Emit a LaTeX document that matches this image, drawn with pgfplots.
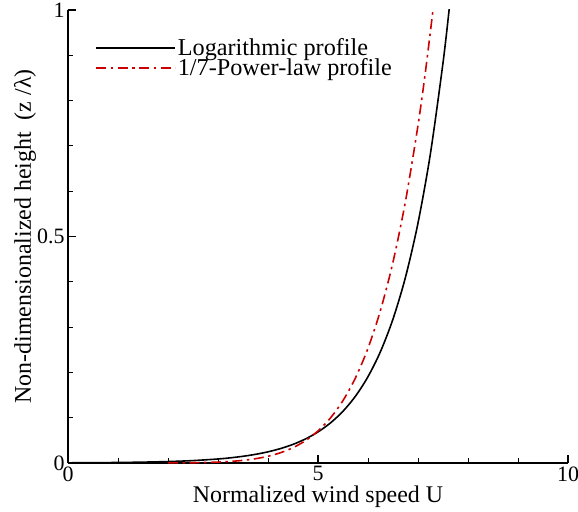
\documentclass[border=0pt]{standalone}
\usepackage{pgfplots}
\pgfplotsset{compat=1.18}
\usepackage{fontspec}
\setmainfont{Liberation Serif}
\definecolor{myred}{RGB}{204,0,0}
\begin{document}
\begin{tikzpicture}
\begin{axis}[
  name=ax,
  scale only axis,
  width=500bp, height=453bp,
  xmin=0, xmax=10, ymin=0, ymax=1,
  axis x line=bottom, axis y line=left,
  axis line style={-, line width=1.6pt},
  xtick={0,5,10}, ytick={0,0.5,1},
  minor xtick={1,2,3,4,6,7,8,9},
  minor ytick={0.1,0.2,0.3,0.4,0.6,0.7,0.8,0.9},
  tick align=inside,
  major tick length=8bp, minor tick length=5bp,
  every tick/.style={black, line width=1pt},
  major tick style={line width=1.6pt},
  tick label style={font=\fontsize{22}{24}\selectfont},
  /pgf/number format/assume math mode=true,
  xlabel={Normalized wind speed U},
  ylabel={Non-dimensionalized height\ \ (z /λ)},
  label style={font=\fontsize{24}{26}\selectfont, inner sep=0pt},
  xlabel style={at={(axis description cs:0.5,-0.051)}, anchor=north},
  ylabel style={at={(axis description cs:-0.086,0.5)}, anchor=center},
  legend style={draw=none, fill=none, at={(axis description cs:0.054,0.942)}, anchor=north west,
    font=\fontsize{24.3}{25}\selectfont, row sep=-2.5bp, inner sep=0pt,
    nodes={inner sep=2bp}},
  legend cell align=left,
  legend image code/.code={\draw[#1] (0bp,0bp) -- (79bp,0bp);},
  legend image post style={line width=1.7pt},
  clip=true,
]
\addplot[black, line width=1.6pt, smooth] table {
x y
0 0.000413
0.5 0.000689
1 0.001148
1.5 0.001915
2 0.003192
2.5 0.00532
3 0.008875
3.25 0.01146
3.5 0.0148
3.75 0.01911
4 0.02467
4.25 0.03185
4.5 0.04113
4.75 0.05311
5 0.06857
5.25 0.08854
5.5 0.1143
5.75 0.1476
6 0.1906
6.25 0.2461
6.5 0.3178
6.75 0.4103
7 0.5298
7.25 0.6841
7.5 0.8833
7.62 0.998
7.64 1.02
};
\addlegendentry{Logarithmic profile}
\addplot[myred, line width=1.6pt, smooth, dash pattern=on 10bp off 4.5bp on 2.5bp off 4.5bp] table {
x y
2 0.000116
2.5 0.000552
3 0.001981
3.25 0.00347
3.5 0.00582
3.75 0.00944
4 0.01483
4.25 0.02268
4.5 0.03381
4.75 0.04939
5 0.0707
5.25 0.09954
5.5 0.1378
5.75 0.1881
6 0.2534
6.25 0.3372
6.5 0.4437
6.75 0.578
7 0.7454
7.15 0.865
7.3 1.0
};
\addlegendentry{1/7-Power-law profile}
\end{axis}
\pgfresetboundingbox
\path ([shift={(-68bp,-49bp)}]ax.south west) rectangle ([shift={(10bp,10bp)}]ax.north east);
\end{tikzpicture}
\end{document}
